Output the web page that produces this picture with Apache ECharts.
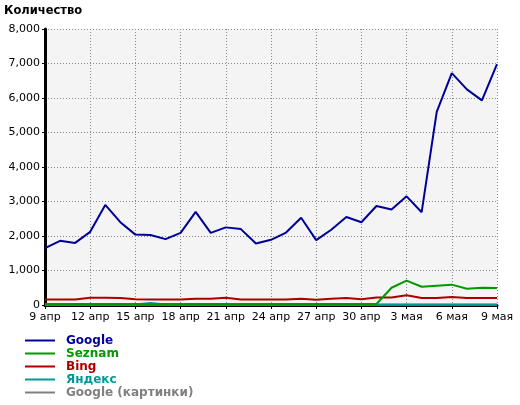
<!DOCTYPE html>
<html><head><meta charset="utf-8">
<script src="https://cdn.jsdelivr.net/npm/echarts@6/dist/echarts.min.js"></script>
<style>html,body{margin:0;padding:0;background:#fff}#c{width:520px;height:405px}</style>
</head><body><div id="c"></div>
<script>
const categories = ['9 апр','10 апр','11 апр','12 апр','13 апр','14 апр','15 апр','16 апр','17 апр','18 апр','19 апр','20 апр','21 апр','22 апр','23 апр','24 апр','25 апр','26 апр','27 апр','28 апр','29 апр','30 апр','1 мая','2 мая','3 мая','4 мая','5 мая','6 мая','7 мая','8 мая','9 мая'];
const google = [1650,1860,1800,2120,2900,2400,2040,2030,1910,2090,2700,2090,2250,2200,1780,1890,2100,2530,1880,2180,2550,2400,2870,2770,3150,2690,5600,6720,6250,5930,6980];
const seznam = [30,30,30,30,30,30,30,30,30,30,30,30,30,30,30,30,30,30,30,30,30,30,30,500,705,530,560,590,470,500,490];
const bing = [160,160,160,210,210,200,170,160,160,160,180,180,210,160,160,160,160,180,150,180,200,170,220,220,280,200,200,230,200,200,200];
const yandex = [15,15,15,15,15,15,15,60,15,15,15,15,15,15,15,15,15,15,15,15,15,15,15,15,15,15,15,15,15,15,15];
const googleImages = [5,5,5,5,5,5,5,5,5,5,5,5,5,5,5,5,5,5,5,5,5,5,5,5,5,5,5,5,5,5,5];
const yTicks = [0,1000,2000,3000,4000,5000,6000,7000,8000];

const colors = {google:'#000099', seznam:'#009900', bing:'#aa0000', yandex:'#009999', img:'#808080'};
const font = 'DejaVu Sans';
const chart = echarts.init(document.getElementById('c'), null, {renderer:'canvas'});
function line(name, data, color){
  return {name, type:'line', data, symbol:'none', smooth:false, color,
    lineStyle:{color, width:2}, animation:false};
}
chart.setOption({
  animation:false,
  title:{text:'Количество', left:4, top:5, padding:0, textStyle:{fontFamily:font, fontSize:11.5, fontWeight:'bold', color:'#000'}},
  grid:{left:45, right:23, top:29, bottom:100, show:true, backgroundColor:'#f4f4f4', borderWidth:0},
  xAxis:{type:'category', data:categories, boundaryGap:false,
    axisLine:{lineStyle:{color:'#000', width:3}},
    axisTick:{show:true, interval:2, length:4, lineStyle:{color:'#000'}},
    axisLabel:{interval:2, color:'#000', fontFamily:font, fontSize:11, margin:7},
    splitLine:{show:true, interval:2, lineStyle:{color:'#888', type:[1,2], width:1}}},
  yAxis:{type:'value', min:yTicks[0], max:yTicks[yTicks.length-1], interval:1000,
    axisLine:{show:true, lineStyle:{color:'#000', width:3}},
    axisTick:{show:true, length:3, lineStyle:{color:'#000'}},
    axisLabel:{color:'#000', fontFamily:font, fontSize:11, margin:5,
      formatter:v=>v.toLocaleString('en-US')},
    splitLine:{show:true, lineStyle:{color:'#888', type:[1,2], width:1}}},
  legend:{orient:'vertical', left:25, top:334, height:70, padding:0, itemWidth:30, itemHeight:2, itemGap:0, icon:'rect',
    textStyle:{fontFamily:font, fontSize:12, fontWeight:'bold', lineHeight:13, padding:[0,0,0,6]},
    data:[
      {name:'Google', textStyle:{color:colors.google}},
      {name:'Seznam', textStyle:{color:colors.seznam}},
      {name:'Bing', textStyle:{color:colors.bing}},
      {name:'Яндекс', textStyle:{color:colors.yandex}},
      {name:'Google (картинки)', textStyle:{color:colors.img}}
    ]},
  series:[
    line('Google (картинки)', googleImages, colors.img),
    line('Яндекс', yandex, colors.yandex),
    line('Bing', bing, colors.bing),
    line('Seznam', seznam, colors.seznam),
    line('Google', google, colors.google)
  ]
});
</script></body></html>
